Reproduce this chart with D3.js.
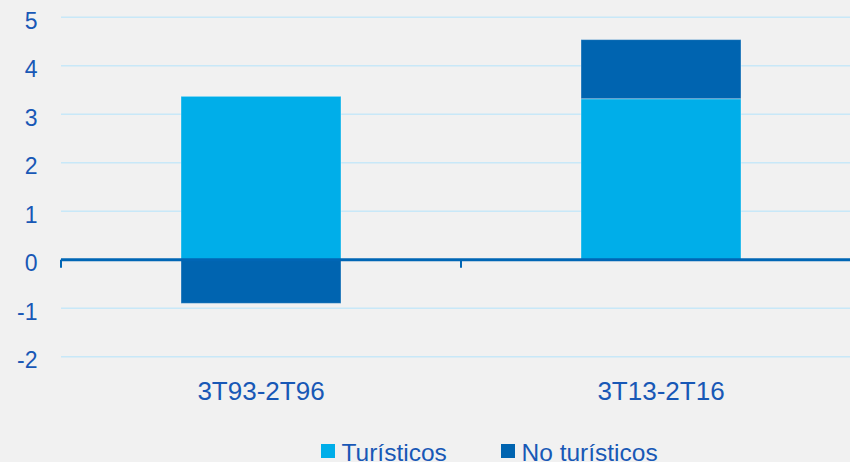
<!DOCTYPE html>
<html>
<head>
<meta charset="utf-8">
<script src="https://cdn.jsdelivr.net/npm/d3@7"></script>
<style>
  html, body { margin: 0; padding: 0; background: #f1f1f1; }
  svg { display: block; font-family: "Liberation Sans", Arial, sans-serif; }
</style>
</head>
<body>
<div id="chart"></div>
<script>
// data
const periods = ["3T93-2T96", "3T13-2T16"];
const turisticos = [3.37, 3.32];
const noTuristicos = [-0.9, 1.22];
const seriesNames = ["Turísticos", "No turísticos"];
const yTicks = [-2, -1, 0, 1, 2, 3, 4, 5];

const width = 850, height = 462;
const colors = ["#00aee9", "#0064b0"];
const textColor = "#1858b6";

const svg = d3.select("#chart").append("svg")
  .attr("width", width)
  .attr("height", height);

svg.append("rect").attr("width", width).attr("height", height).attr("fill", "#f1f1f1");

// plot runs past the right edge, like the original
const x = d3.scaleBand().domain(periods).range([61, 861]).paddingInner(0).paddingOuter(0);
const y = d3.scaleLinear().domain([-2, 5]).range([356.7, 17.3]);

// gridlines
svg.append("g")
  .selectAll("line")
  .data(yTicks.filter(d => d !== 0))
  .join("line")
  .attr("x1", 61).attr("x2", width)
  .attr("y1", d => y(d)).attr("y2", d => y(d))
  .attr("stroke", "#c8e8f8")
  .attr("stroke-width", 1.5);

// y labels (sit a little below their gridline in the original)
svg.append("g")
  .selectAll("text")
  .data(yTicks)
  .join("text")
  .attr("x", 37.5)
  .attr("y", d => y(d) + 11.5)
  .attr("text-anchor", "end")
  .attr("fill", textColor)
  .style("font-size", "23px")
  .text(d => d);

// stacked bars
const rows = periods.map((p, i) => ({ period: p, t: turisticos[i], n: noTuristicos[i] }));
const stacked = d3.stack().keys(["t", "n"]).offset(d3.stackOffsetDiverging)(rows);

svg.append("g")
  .selectAll("g")
  .data(stacked)
  .join("g")
  .attr("fill", (d, i) => colors[i])
  .selectAll("rect")
  .data(d => d)
  .join("rect")
  .attr("x", d => x(d.data.period) + x.bandwidth() * 0.3)
  .attr("width", x.bandwidth() * 0.4)
  .attr("y", d => y(Math.max(d[0], d[1])))
  .attr("height", d => Math.abs(y(d[0]) - y(d[1])))
  .attr("stroke", "rgba(255,255,255,0.35)")
  .attr("stroke-width", 1);

// zero axis with ticks
const axis = svg.append("g").attr("transform", `translate(0,${y(0)})`);
axis.append("line")
  .attr("x1", 61).attr("x2", width)
  .attr("stroke", "#0066b5").attr("stroke-width", 3);
axis.selectAll("line.tick")
  .data([61, x(periods[1])])
  .join("line")
  .attr("class", "tick")
  .attr("x1", d => d).attr("x2", d => d)
  .attr("y1", 0).attr("y2", 8)
  .attr("stroke", "#0066b5").attr("stroke-width", 2);

// category labels
svg.append("g")
  .selectAll("text")
  .data(periods)
  .join("text")
  .attr("x", d => x(d) + x.bandwidth() / 2)
  .attr("y", 400)
  .attr("text-anchor", "middle")
  .attr("fill", textColor)
  .style("font-size", "26px")
  .text(d => d);

// legend (cut by the bottom edge in the original too)
const legendX = [321, 501];
const legend = svg.append("g")
  .selectAll("g")
  .data(seriesNames)
  .join("g")
  .attr("transform", (d, i) => `translate(${legendX[i]},444)`);
legend.append("rect")
  .attr("width", 14).attr("height", 14)
  .attr("fill", (d, i) => colors[i]);
legend.append("text")
  .attr("x", 20.5)
  .attr("y", 16.5)
  .attr("fill", textColor)
  .style("font-size", "24.5px")
  .text(d => d);
</script>
</body>
</html>
